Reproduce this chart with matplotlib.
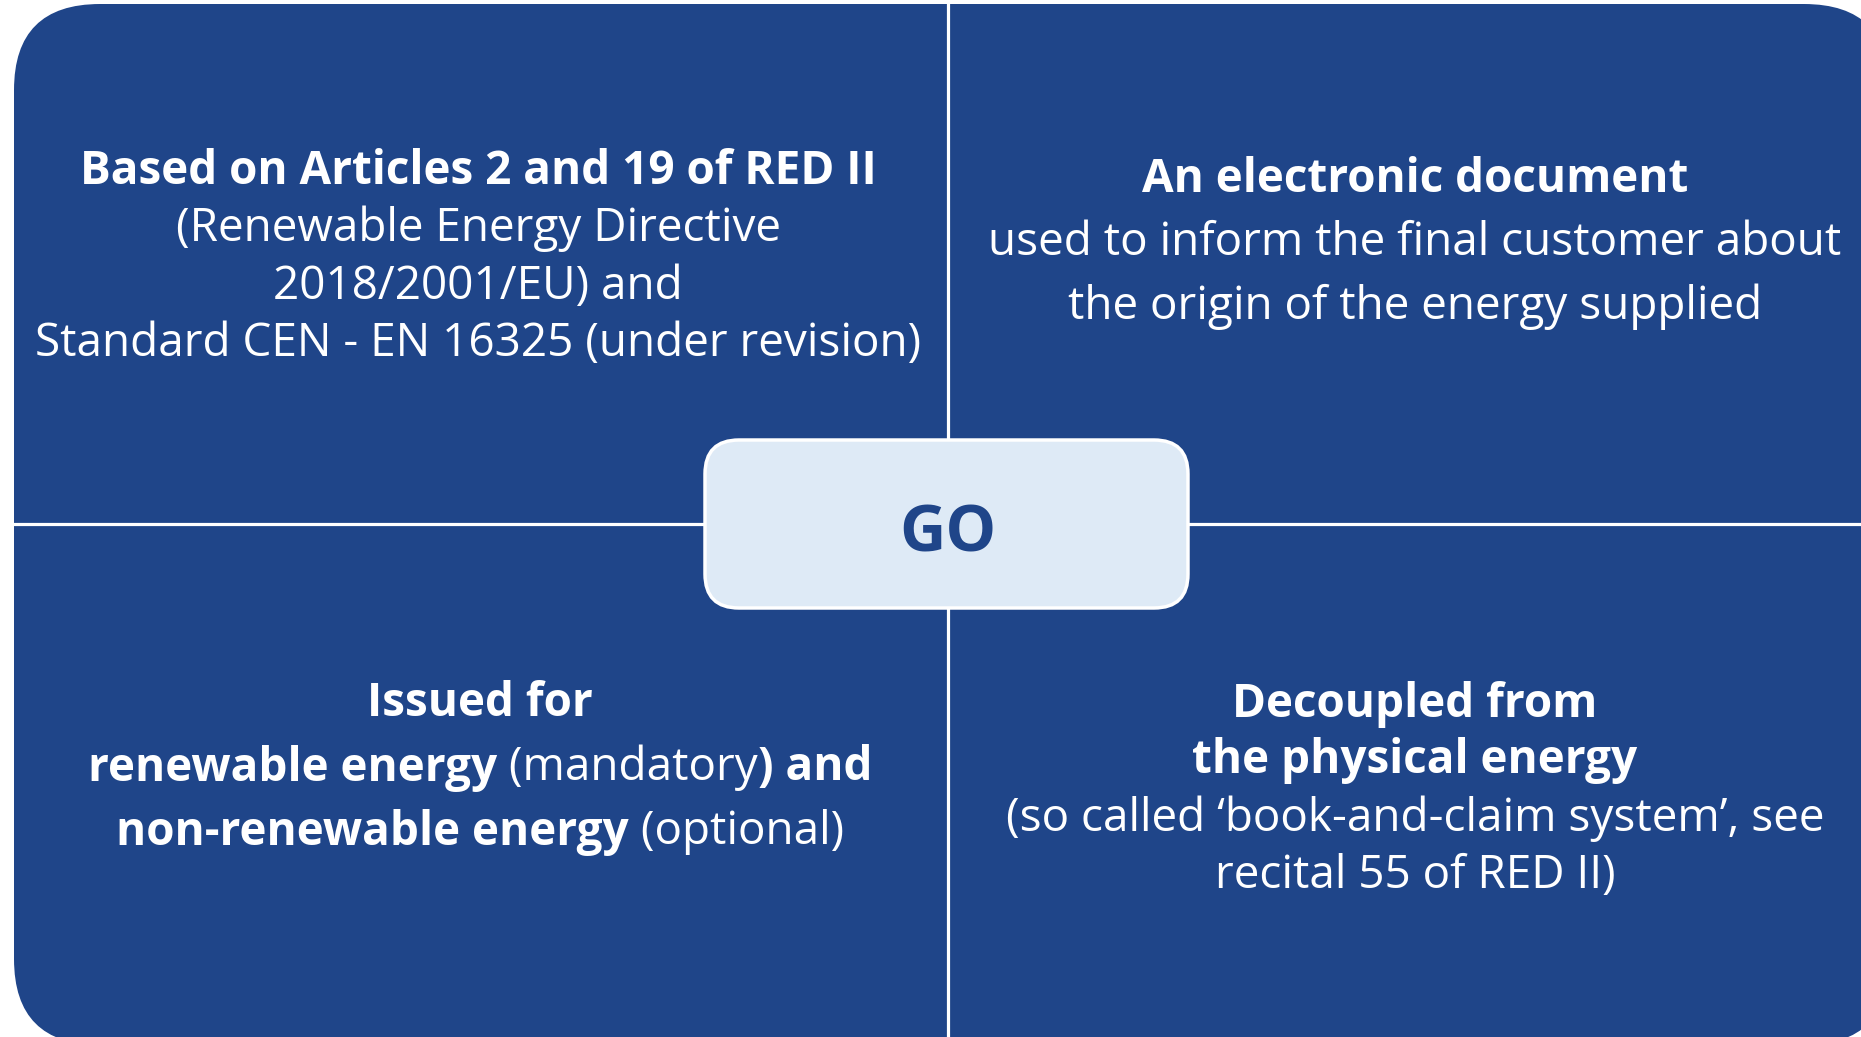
import matplotlib
matplotlib.use('Agg')
import matplotlib.pyplot as plt
from matplotlib.patches import FancyBboxPatch

plt.rcParams['font.family'] = ['Open Sans', 'DejaVu Sans']

W, H = 1861, 1037
BLUE = '#1f4589'
PALE = '#deeaf6'

# each line is a list of (text, bold) pieces
top_left = [
    [("Based on Articles 2 and 19 of RED II", True)],
    [("(Renewable Energy Directive", False)],
    [("2018/2001/EU) and", False)],
    [("Standard CEN - EN 16325 (under revision)", False)],
]
top_right = [
    [("An electronic document", True)],
    [("used to inform the final customer about", False)],
    [("the origin of the energy supplied", False)],
]
bottom_left = [
    [("Issued for", True)],
    [("renewable energy", True), (" (mandatory", False), (") and", True)],
    [("non-renewable energy", True), (" (optional)", False)],
]
bottom_right = [
    [("Decoupled from", True)],
    [("the physical energy", True)],
    [("(so called \u2018book-and-claim system\u2019, see", False)],
    [("recital 55 of RED II)", False)],
]
center_label = "GO"

fig = plt.figure(figsize=(W / 100, H / 100), dpi=100)
ax = fig.add_axes([0, 0, 1, 1])
ax.set_xlim(0, W)
ax.set_ylim(H, 0)
ax.axis('off')

# big blue panel, runs off the right and bottom edges
ax.add_patch(FancyBboxPatch((14, 4), 1876, 1041,
                            boxstyle="round,pad=0,rounding_size=86",
                            fc=BLUE, ec='none'))
# white dividers
cx, cy = 948, 524
ax.plot([cx, cx], [0, H], color='white', lw=2.3)
ax.plot([0, W], [cy, cy], color='white', lw=2.3)

# center box
ax.add_patch(FancyBboxPatch((705, 440), 483, 168,
                            boxstyle="round,pad=0,rounding_size=34",
                            fc=PALE, ec='white', lw=2.5, zorder=3))
ax.text(cx, cy + 11, center_label, fontsize=46, fontweight='bold', color=BLUE,
        ha='center', va='center', zorder=4)

renderer = fig.canvas.get_renderer()


def width_of(s, size, bold):
    # measure with a trailing marker so spaces count
    kw = dict(fontsize=size, fontweight='bold' if bold else 'normal')
    t1 = ax.text(0, 0, s + 'x', **kw)
    t2 = ax.text(0, 0, 'x', **kw)
    w = t1.get_window_extent(renderer).width - t2.get_window_extent(renderer).width
    t1.remove()
    t2.remove()
    return w


def draw_block(lines, x, ys, size):
    for pieces, y in zip(lines, ys):
        ws = [width_of(s, size, b) for s, b in pieces]
        left = x - sum(ws) / 2
        for (s, b), w in zip(pieces, ws):
            ax.text(left, y + 4, s, fontsize=size, fontweight='bold' if b else 'normal',
                    color='white', ha='left', va='center', zorder=2)
            left += w


draw_block(top_left, 478, [168, 225, 283, 340], 33)
draw_block(top_right, 1415, [175, 239, 303], 33)
draw_block(bottom_left, 480, [700, 764, 828], 33)
draw_block(bottom_right, 1415, [700, 756, 815, 872], 33)

fig.savefig('out.png', dpi=100)
